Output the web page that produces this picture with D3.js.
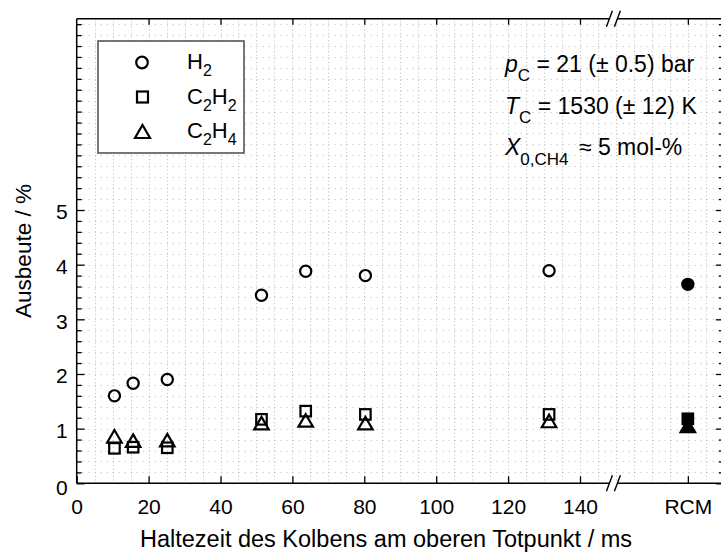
<!DOCTYPE html>
<html>
<head>
<meta charset="utf-8">
<script src="https://cdn.jsdelivr.net/npm/d3@7"></script>
<style>
  body { margin: 0; background: #fff; }
  svg { display: block; font-family: "Liberation Sans", Arial, Helvetica, sans-serif; }
</style>
</head>
<body>
<div id="chart"></div>
<script>
/* DATA */
const times = [10.5, 15.7, 25.2, 51.4, 63.7, 80.3, 131.4];   // ms
const h2   = [1.60, 1.83, 1.90, 3.44, 3.88, 3.80, 3.89];
const c2h2 = [0.64, 0.66, 0.65, 1.17, 1.32, 1.26, 1.26];
const c2h4 = [0.86, 0.78, 0.79, 1.10, 1.15, 1.10, 1.14];
// RCM reference (filled markers)
const rcmX = 170;
const rcmH2 = 3.64, rcmC2H2 = 1.18, rcmC2H4 = 1.05;

const xTicks = [0, 20, 40, 60, 80, 100, 120, 140];
const yTicks = [0, 1, 2, 3, 4, 5];
const xBreak = 149.3;

/* CONSTANTS */
const width = 721, height = 552;
const fontSize = 21;

const x = d3.scaleLinear().domain([0, 180]).range([76.7, 723.8]);
const y = d3.scaleLinear().domain([0, 8.5]).range([483.3, 18.7]);
const x0 = x(0), x1 = x(180), yb = y(0), yt = y(8.5);

const svg = d3.select("#chart").append("svg")
  .attr("width", width)
  .attr("height", height);

/* GRID */
const grid = svg.append("g").attr("stroke", "#bdbdbd").attr("stroke-width", 1);
grid.selectAll("line.h")
  .data(d3.range(1, 43).map(i => i * 0.2))
  .join("line")
  .attr("class", "h")
  .attr("x1", x0).attr("x2", x1)
  .attr("y1", d => Math.round(y(d)) + 0.5).attr("y2", d => Math.round(y(d)) + 0.5)
  .attr("stroke-dasharray", "1,5");
grid.selectAll("line.v")
  .data(d3.range(1, 36).map(i => i * 5))
  .join("line")
  .attr("class", "v")
  .attr("x1", d => Math.round(x(d)) + 0.5).attr("x2", d => Math.round(x(d)) + 0.5)
  .attr("y1", yt).attr("y2", yb)
  .attr("stroke-dasharray", "1,2.6");

/* AXES */
const minorY = d3.range(0, 43).map(i => +(i * 0.2).toFixed(1)).filter(d => !yTicks.includes(d) || d > 5);

function styleAxis(g) {
  g.select(".domain").remove();
  g.selectAll("line").attr("stroke", "#000").attr("stroke-width", 1.3);
  g.selectAll("text").attr("font-size", fontSize).attr("fill", "#000").attr("font-family", null);
}

svg.append("g")
  .attr("transform", `translate(${x0},0)`)
  .call(d3.axisLeft(y).tickValues(minorY).tickSize(-5).tickFormat(""))
  .call(styleAxis);
svg.append("g")
  .attr("transform", `translate(${x0},0)`)
  .call(d3.axisLeft(y).tickValues(yTicks).tickSize(-8).tickPadding(9))
  .call(styleAxis)
  .call(g => g.selectAll("text").attr("dy", d => d === 0 ? "0.55em" : "0.42em"));

svg.append("g")
  .attr("transform", `translate(${x1},0)`)
  .call(d3.axisRight(y).tickValues(minorY).tickSize(-5).tickFormat(""))
  .call(styleAxis);
svg.append("g")
  .attr("transform", `translate(${x1},0)`)
  .call(d3.axisRight(y).tickValues(yTicks).tickSize(-8).tickFormat(""))
  .call(styleAxis);

svg.append("g")
  .attr("transform", `translate(0,${yb})`)
  .call(d3.axisBottom(x).tickValues(xTicks.concat([rcmX])).tickSize(-7).tickPadding(15.5)
    .tickFormat(d => d === rcmX ? "RCM" : d))
  .call(styleAxis);

svg.append("g")
  .attr("transform", `translate(0,${yt})`)
  .call(d3.axisTop(x).tickValues(xTicks.slice(1).concat([rcmX])).tickSize(-6).tickFormat(""))
  .call(styleAxis);

// frame lines with break
const frame = svg.append("g").attr("stroke", "#000").attr("stroke-width", 1.5).attr("fill", "none");
const xb = x(xBreak);
frame.append("line").attr("x1", x0).attr("x2", x0).attr("y1", yt).attr("y2", yb);
frame.append("line").attr("x1", x1).attr("x2", x1).attr("y1", yt).attr("y2", yb);
[yb, yt].forEach(yy => {
  frame.append("line").attr("x1", x0).attr("x2", xb - 4).attr("y1", yy).attr("y2", yy);
  frame.append("line").attr("x1", xb + 4).attr("x2", x1).attr("y1", yy).attr("y2", yy);
  [-4, 4].forEach(o => {
    frame.append("line")
      .attr("x1", xb + o - 3).attr("y1", yy + 8)
      .attr("x2", xb + o + 3).attr("y2", yy - 8)
      .attr("stroke-width", 1.4);
  });
});

/* AXIS TITLES */
svg.append("text")
  .attr("x", 386).attr("y", 547)
  .attr("text-anchor", "middle").attr("font-size", 23.5)
  .text("Haltezeit des Kolbens am oberen Totpunkt / ms");
svg.append("text")
  .attr("transform", `translate(31,${(yt + yb) / 2}) rotate(-90)`)
  .attr("text-anchor", "middle").attr("font-size", 22.5)
  .text("Ausbeute / %");

/* MARKERS */
function circle(g, cx, cy, r, filled) {
  g.append("circle").attr("cx", cx).attr("cy", cy).attr("r", r)
    .attr("fill", filled ? "#000" : "none").attr("stroke", "#000").attr("stroke-width", 2.2);
}
function square(g, cx, cy, s, filled) {
  g.append("rect").attr("x", cx - s / 2).attr("y", cy - s / 2).attr("width", s).attr("height", s)
    .attr("fill", filled ? "#000" : "none").attr("stroke", "#000").attr("stroke-width", 2.2);
}
function triangle(g, cx, cy, w, h, filled) {
  g.append("path")
    .attr("d", `M${cx},${cy - h / 2}L${cx + w / 2},${cy + h / 2}L${cx - w / 2},${cy + h / 2}Z`)
    .attr("fill", filled ? "#000" : "none").attr("stroke", "#000").attr("stroke-width", 2.2)
    .attr("stroke-linejoin", "miter");
}

const marks = svg.append("g");
times.forEach((t, i) => {
  square(marks, x(t), y(c2h2[i]), 10.5, false);
  triangle(marks, x(t), y(c2h4[i]), 14.5, 12.5, false);
  circle(marks, x(t), y(h2[i]), 5.6, false);
});
square(marks, x(rcmX), y(rcmC2H2), 10.5, true);
triangle(marks, x(rcmX), y(rcmC2H4), 14.5, 12.5, true);
circle(marks, x(rcmX), y(rcmH2), 5.6, true);

/* LEGEND */
const legend = svg.append("g");
legend.append("rect")
  .attr("x", 98).attr("y", 41).attr("width", 146).attr("height", 112)
  .attr("fill", "#fff").attr("stroke", "#555").attr("stroke-width", 1.6);
const legendItems = [
  { main: ["H"], sub: ["2"], draw: (g, cy) => circle(g, 142, cy, 5.8, false), cy: 62.5 },
  { main: ["C", "H"], sub: ["2", "2"], draw: (g, cy) => square(g, 142.5, cy, 11, false), cy: 97 },
  { main: ["C", "H"], sub: ["2", "4"], draw: (g, cy) => triangle(g, 142.5, cy, 15, 13, false), cy: 131.5 }
];
legendItems.forEach(it => {
  it.draw(legend, it.cy);
  const t = legend.append("text").attr("x", 187).attr("y", it.cy + 6.5).attr("font-size", 22);
  it.main.forEach((m, k) => {
    t.append("tspan").attr("dy", k === 0 ? 0 : -7).text(m);
    t.append("tspan").attr("dy", 7).attr("font-size", 16).text(it.sub[k]);
  });
});

/* ANNOTATION */
const ann = svg.append("g").attr("font-size", 23);
const a1 = ann.append("text").attr("x", 505).attr("y", 72);
a1.append("tspan").attr("font-style", "italic").text("p");
a1.append("tspan").attr("dy", 9).attr("font-size", 17).text("C");
a1.append("tspan").attr("dy", -9).text(" = 21 (\u00B1 0.5) bar");

const a2 = ann.append("text").attr("x", 505).attr("y", 113.5);
a2.append("tspan").attr("font-style", "italic").text("T");
a2.append("tspan").attr("dy", 9).attr("font-size", 17).text("C");
a2.append("tspan").attr("dy", -9).text(" = 1530 (\u00B1 12) K");

const a3 = ann.append("text").attr("x", 505).attr("y", 155);
a3.append("tspan").attr("font-style", "italic").text("X");
a3.append("tspan").attr("dy", 10).attr("font-size", 17).text("0,CH4");
a3.append("tspan").attr("dx", 4).attr("dy", -10).text(" \u2248 5 mol-%");
</script>
</body>
</html>
